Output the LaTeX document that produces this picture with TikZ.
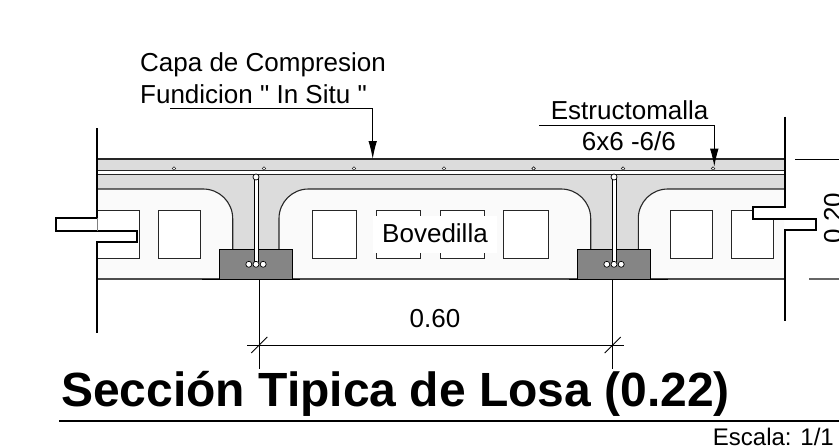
\documentclass[tikz,border=0pt]{standalone}
\usepackage{fontspec}
\setmainfont{Liberation Sans}
\newfontfamily\rectas{Liberation Sans}
\usetikzlibrary{arrows.meta}
\definecolor{concreto}{HTML}{DCDCDC}
\definecolor{bloque}{HTML}{858585}
\definecolor{relleno}{HTML}{FAFAFA}
\tikzstyle{Label}=[anchor=base west, inner sep=0, font=\fontsize{26}{26}\selectfont]
\tikzstyle{Muro}=[line width=2, draw=black]
\tikzstyle{Hueco}=[line width=1, draw=black!85, fill=white]
\tikzstyle{Perfil}=[line width=1.1, draw=black!85]
\tikzstyle{Cota}=[line width=0.9, draw=black]
\tikzstyle{Flecha}=[line width=0.9, draw=black, -{Latex[length=18, width=8.5]}]
\tikzstyle{Varilla}=[circle, draw=black, fill=white, line width=0.7, inner sep=0, minimum size=6]
\tikzstyle{Malla}=[circle, draw=black!85, fill=white, line width=0.7, inner sep=0, minimum size=3.5]

\begin{document}
\begin{tikzpicture}[x=1pt, y=-1pt]
    \useasboundingbox (0,0) rectangle (839,447);

    % losa y nervios
    \fill[concreto] (97,159) rectangle (784,250);
    \draw[Perfil, line width=1.5] (97,159) -- (784,159);
    \draw[Perfil] (97,170.7) -- (784,170.7) (97,174.3) -- (784,174.3);
    \fill[white] (97,171.3) rectangle (784,173.7);

    % bovedillas
    \fill[relleno] (97,279) -- (97,189) [rounded corners=29.5] -- (232.7,189) -- (232.7,249) [sharp corners] -- (232.7,279) -- cycle;
    \fill[relleno] (279,279) -- (279,249) [rounded corners=29.5] -- (279,189) -- (590.7,189) -- (590.7,249) [sharp corners] -- (590.7,279) -- cycle;
    \fill[relleno] (638.3,279) -- (638.3,249) [rounded corners=29.5] -- (638.3,189) -- (700,189) [sharp corners] -- (784,189) -- (784,279) -- cycle;
    \draw[Perfil, rounded corners=29.5] (97,189) -- (232.7,189) -- (232.7,250);
    \draw[Perfil, rounded corners=29.5] (279,250) -- (279,189) -- (590.7,189) -- (590.7,250);
    \draw[Perfil, rounded corners=29.5] (638.3,250) -- (638.3,189) -- (784,189);

    % huecos
    \foreach \x/\w in {97/42, 158.3/42.4, 312.3/44, 376.3/44, 440.3/44, 503.7/44.6, 670/42, 731.7/41.3}
        \draw[Hueco] (\x,210) rectangle +(\w,48.3);

    % fondo
    \draw[line width=1.4, draw=black!70] (97,279) -- (785,279);
    \draw[line width=1, draw=black] (202,279) -- (300,279) (569,279) -- (668,279);

    % muros
    \filldraw[Muro, fill=white] (97,128) -- (97,218) -- (56,218) -- (56,231) -- (137,231) -- (137,242) -- (97,242) -- (97,332.7);
    \draw[line width=0.6, draw=black!50] (97,218) -- (97,231);
    \filldraw[Muro, fill=white] (785,116.7) -- (785,206.7) -- (753.3,206.7) -- (753.3,218.7) -- (816,218.7) -- (816,230) -- (785,230) -- (785,320.7);

    % nervios: bloque y varillas
    \foreach \xa/\xr/\nervio in {219.3/256/a, 577.7/614/b} {
        \draw[line width=1, draw=black, fill=bloque] (\xa,249.3) rectangle +(73,29.7);
        \fill[white] (\xr-1.5,177) rectangle (\xr+1.5,264);
        \draw[line width=0.7] (\xr-1.9,177) -- (\xr-1.9,262) (\xr+1.9,177) -- (\xr+1.9,262);
        \path
        (\xr,177) node[Varilla] (sup\nervio) {}
        (\xr-7.2,264.3) node[Varilla] (izq\nervio) {}
        (\xr,264.3) node[Varilla] (cen\nervio) {}
        (\xr+7.2,264.3) node[Varilla] (der\nervio) {};
    }

    % malla
    \foreach \x in {174,264,354,444,533.7,623,713}
        \node[Malla] (malla\x) at (\x,168.5) {};

    % textos
    \path
    (140,71.7) node[Label] (capa) {Capa de Compresion}
    (140,103.3) node[Label, font=\fontsize{26}{26}\rectas] (fundicion) {Fundicion " In Situ "}
    (550.7,119.3) node[Label] (estructo) {Estructomalla}
    (581.7,150) node[Label] (seis) {6x6 -6/6}
    (435,242.7) node[anchor=base, fill=white, inner xsep=9, text depth=6.5, text height=23.7, font=\fontsize{26}{26}\selectfont] (bovedilla) {Bovedilla}
    (435,327) node[anchor=base, inner sep=0, font=\fontsize{26}{26}\selectfont] (cota) {0.60}
    (842,218) node[rotate=90, anchor=base, inner sep=0, font=\fontsize{26}{26}\selectfont] (alto) {0.20}
    (61,406.7) node[Label, font=\fontsize{48}{48}\selectfont\bfseries] (titulo) {Sección Tipica de Losa (0.22)}
    (712.7,445.7) node[Label, font=\fontsize{24}{24}\selectfont] (escala) {Escala: 1/1};

    % flechas
    \coordinate (c1) at (170,108.3);
    \coordinate (c2) at (372.7,108.3);
    \coordinate (c3) at (372.7,159);
    \draw[Flecha] (c1) -- (c2) -- (c3);
    \coordinate (e1) at (539.3,125);
    \coordinate (e2) at (714.3,125);
    \coordinate (e3) at (714.3,166.7);
    \draw[Flecha] (e1) -- (e2) -- (e3);

    % cotas
    \coordinate (p1) at (259.3,279);
    \coordinate (p2) at (259.3,369);
    \coordinate (q1) at (612.7,279);
    \coordinate (q2) at (612.7,369);
    \coordinate (d1) at (247,345);
    \coordinate (d2) at (624,345);
    \draw[Cota] (p1) -- (p2);
    \draw[Cota] (q1) -- (q2);
    \draw[Cota] (d1) -- (d2);
    \draw[Cota] (251.3,353) -- (267.3,337);
    \draw[Cota] (604.7,353) -- (620.7,337);
    \draw[Cota] (795,159) -- (839,159);
    \draw[line width=1.2, draw=black!60] (809,279) -- (839,279);

    % titulo
    \coordinate (r1) at (59,420.7);
    \coordinate (r2) at (839,420.7);
    \draw[line width=2] (r1) -- (r2);
\end{tikzpicture}
\end{document}
